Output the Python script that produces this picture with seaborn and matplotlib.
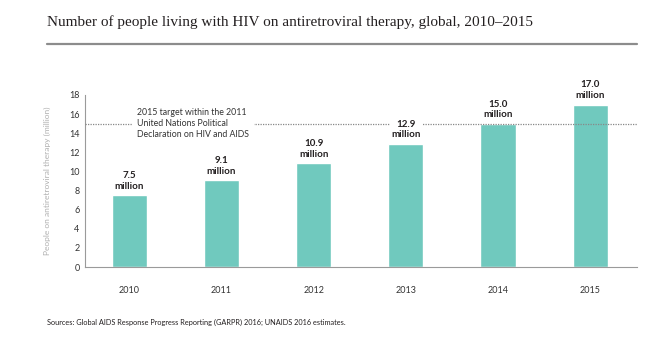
import matplotlib
matplotlib.use("Agg")
import matplotlib.pyplot as plt
import seaborn as sns
import pandas as pd

# Data
years = ["2010", "2011", "2012", "2013", "2014", "2015"]
people_millions = [7.5, 9.1, 10.9, 12.9, 15.0, 17.0]
target_2015 = 15.0

title = "Number of people living with HIV on antiretroviral therapy, global, 2010\u20132015"
ylabel = "People on antiretroviral therapy (million)"
target_note = "2015 target within the 2011\nUnited Nations Political\nDeclaration on HIV and AIDS"
source = "Sources: Global AIDS Response Progress Reporting (GARPR) 2016; UNAIDS 2016 estimates."

df = pd.DataFrame({"year": years, "value": people_millions})

sns.set_theme(style="white")
plt.rcParams["font.family"] = ["Lato", "DejaVu Sans"]

bar_color = "#70C9BE"
text_dark = "#231f20"

fig = plt.figure(figsize=(6.7, 3.4), dpi=100)
ax = fig.add_axes([0.127, 0.2147, 0.824, 0.506])

sns.barplot(data=df, x="year", y="value", color=bar_color, saturation=1,
            width=0.38, ax=ax, zorder=2)

ax.set_xlim(-0.48, 5.51)
ax.set_ylim(0, 18)
ax.set_yticks(range(0, 19, 2))
ax.tick_params(axis="y", length=0, labelsize=6.5, colors="#333333", pad=4)
ax.tick_params(axis="x", length=0, labelsize=6.5, colors="#333333", pad=14)
ax.set_xlabel("")
ax.set_ylabel(ylabel, fontsize=6, color="#b0b0b0", labelpad=13)

for side in ["top", "right"]:
    ax.spines[side].set_visible(False)
for side in ["left", "bottom"]:
    ax.spines[side].set_color("#9a9a9a")
    ax.spines[side].set_linewidth(0.8)

# Target line
ax.axhline(target_2015, color="#888888", linestyle=(0, (1, 1)), linewidth=0.9, zorder=3)

# Value labels above bars
for i, v in enumerate(people_millions):
    ax.text(i, v + 0.45, f"{v:.1f}\nmillion", ha="center", va="bottom",
            fontsize=7, fontweight="bold", color=text_dark, linespacing=1.25,
            zorder=4, clip_on=False,
            bbox=dict(boxstyle="square,pad=0.15", fc="white", ec="none"))

# Target annotation
ax.text(0.085, target_2015, target_note, ha="left", va="center",
        fontsize=6.3, color="#333333", linespacing=1.3, zorder=4,
        bbox=dict(boxstyle="square,pad=0.5", fc="white", ec="none"))

# Title and rule
fig.text(0.070, 0.935, title, ha="left", va="center", fontsize=11,
         family=["Liberation Serif", "DejaVu Serif"], color=text_dark)
fig.add_artist(plt.Line2D([0.070, 0.951], [0.870, 0.870], color="#8c8c8c",
                          linewidth=1.6, transform=fig.transFigure))

# Source
fig.text(0.070, 0.053, source, ha="left", va="center", fontsize=5.3, color=text_dark)

fig.savefig("out.png", dpi=100, facecolor="white")
